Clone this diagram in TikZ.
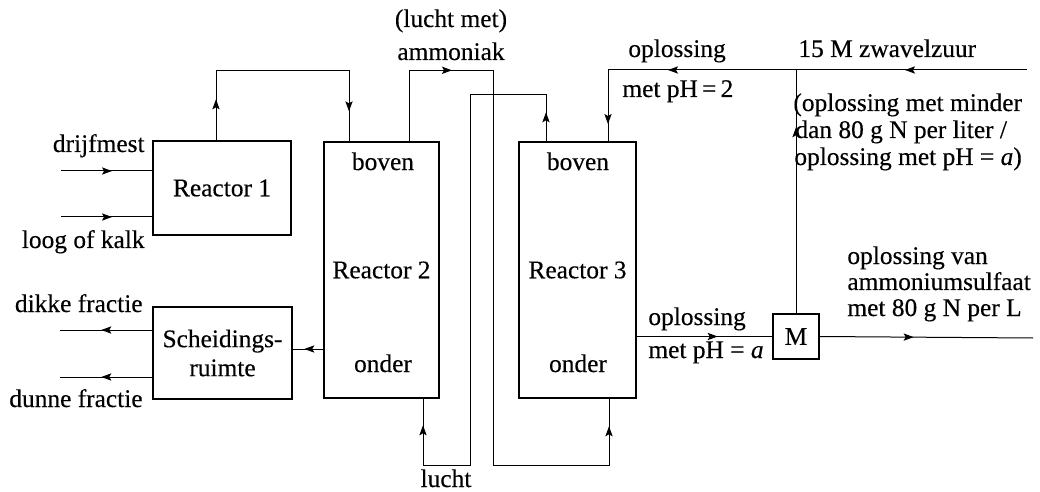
\documentclass[tikz,border=0pt]{standalone}
\usepackage{fontspec}
\setmainfont{Liberation Serif}[UprightFeatures = {FakeBold = 0.3}, ItalicFeatures = {FakeBold = 0.3}]
\usetikzlibrary{arrows.meta,decorations.markings}

\begin{document}
\begin{tikzpicture}[
    x = 0.5pt, y = -0.5pt,
    font = \fontsize{12.7}{14.5}\selectfont,
    unit/.style = {draw, line width = 0.7pt, inner sep = 0pt, align = center},
    flow/.style = {line width = 0.5pt},
    arr/.style = {postaction = {decorate, decoration = {markings,
        mark = at position #1 with {\arrow{Stealth[length=5pt, width=3.6pt, inset=1pt]}}}}},
    lbl/.style = {inner sep = 0pt}
]
\useasboundingbox (0,0) rectangle (1040,492);

% units
\node [unit, minimum width = 69pt, minimum height = 47pt] (reactor1) at (222,188) {Reactor 1};
\node [unit, minimum width = 57.5pt, minimum height = 128pt] (reactor2) at (381.5,270) {Reactor 2};
\node [unit, minimum width = 58.5pt, minimum height = 128pt] (reactor3) at (577.5,270) {Reactor 3};
\node [unit, minimum width = 69.5pt, minimum height = 46pt] (scheiding) at (222.5,353) {Scheidings-\\ruimte};
\node [unit, minimum width = 23pt, minimum height = 22.5pt] (menger) at (796,336.5) {M};

\coordinate (mest) at (61,171);
\coordinate (kalk) at (61,217);
\coordinate (dik) at (60,330);
\coordinate (dun) at (60,377);
\coordinate (zuur) at (1027,70);
\coordinate (product) at (1033,338);

% streams
\draw [flow, arr = 25.5pt] (mest) -- (mest -| reactor1.west);
\draw [flow, arr = 25.5pt] (kalk) -- (kalk -| reactor1.west);
\draw [flow, arr = 25.5pt] (dik -| scheiding.west) -- (dik);
\draw [flow, arr = 25.5pt] (dun -| scheiding.west) -- (dun);
\draw [flow, arr = 9.5pt] ([yshift=2pt]scheiding.east -| reactor2.west) -- ([yshift=2pt]scheiding.east);
\draw [flow, arr = 20.5pt, arr = 122pt] ([xshift=-3pt]reactor1.north) -- ++(0,-70)
    -| ([xshift=-16.25pt]reactor2.north);
\draw [flow, arr = 57pt, arr = 352.5pt] ([xshift=13.75pt]reactor2.north) -- ++(0,-71)
    -- ++(84,0) -- ++(0,395) -| ([xshift=15.75pt]reactor3.south);
\draw [flow, arr = 14.5pt, arr = 290.5pt] ([xshift=-15.75pt]reactor3.north) -- ++(0,-47)
    -- ++(-76,0) -- ++(0,371) -| ([xshift=20.75pt]reactor2.south);
\draw [flow, arr = 61pt, arr = 179.5pt, arr = 236.5pt] (zuur) -| ([xshift=15.25pt]reactor3.north);
\draw [flow, arr = 93pt] (menger.north) -- (menger.north |- zuur);
\draw [flow, arr = 40.5pt] (menger.west -| reactor3.east) -- (menger.west);
\draw [flow, arr = 47pt] (menger.east) -- (product);

% labels
\node [lbl, anchor = base east] (lmest) at (145,152) {drijfmest};
\node [lbl, anchor = base east] (lkalk) at (145,248) {loog of kalk};
\node [lbl, anchor = base east] (ldik) at (143,312) {dikke fractie};
\node [lbl, anchor = base east] (ldun) at (143,407) {dunne fractie};
\node [lbl, anchor = base] (boven2) at (383,170) {boven};
\node [lbl, anchor = base] (onder2) at (383,372) {onder};
\node [lbl, anchor = base] (boven3) at (578,170) {boven};
\node [lbl, anchor = base] (onder3) at (578,372) {onder};
\node [lbl, anchor = base] (lnh3a) at (451,27) {(lucht met)};
\node [lbl, anchor = base] (lnh3b) at (451,60) {ammoniak};
\node [lbl, anchor = base] (llucht) at (446,487) {lucht};
\node [lbl, anchor = base west] (lph2a) at (628,57) {oplossing};
\node [lbl, anchor = base west] (lph2b) at (622,97) {met pH\,=\,2};
\node [lbl, anchor = base west] (lzuur) at (798,57) {15 M zwavelzuur};
\node [lbl, anchor = base west] (lretoura) at (793,111) {(oplossing met minder};
\node [lbl, anchor = base west] (lretourb) at (795,138) {dan 80 g N per liter /};
\node [lbl, anchor = base west] (lretourc) at (794,165) {oplossing met pH = \textit{a})};
\node [lbl, anchor = base west] (lpha) at (648,325) {oplossing};
\node [lbl, anchor = base west] (lphb) at (648,358) {met pH = \textit{a}};
\node [lbl, anchor = base west] (lproda) at (847,264) {oplossing van};
\node [lbl, anchor = base west] (lprodb) at (847,290) {ammoniumsulfaat};
\node [lbl, anchor = base west] (lprodc) at (847,316) {met 80 g N per L};
\end{tikzpicture}
\end{document}
